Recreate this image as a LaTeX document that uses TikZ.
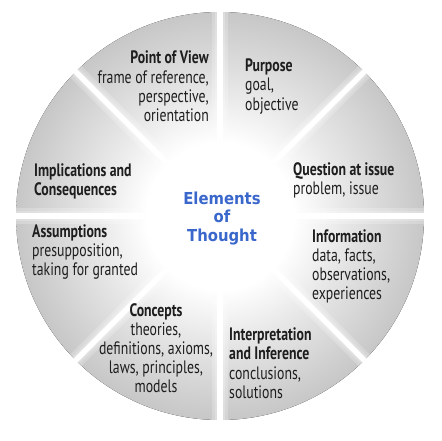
\documentclass[tikz,border=0pt]{standalone}
\usepackage{fontspec}
\setmainfont[FakeStretch=0.765]{PT Sans}
\newfontfamily\titlefont{DejaVu Sans Condensed}
\definecolor{titleblue}{HTML}{3A67CC}
\definecolor{txt}{HTML}{1E1E1E}
\pgfdeclareradialshading{ringshade}{\pgfpointorigin}{color(0bp)=(white); color(9bp)=(white); color(15bp)=(black!9); color(25bp)=(black!22); color(50bp)=(black!22)}
\tikzset{
  lbl/.style={inner sep=0pt, text=txt, font=\fontsize{18}{19.2}\selectfont},
  gap/.style={white, line width=5.5pt},
  glow/.style={white, opacity=0.22},
}
\begin{document}
\begin{tikzpicture}[x=1pt,y=-1pt]
\useasboundingbox (0,0) rectangle (441,441);
\coordinate (c) at (220,216);
\fill[shading=ringshade] (c) circle[radius=204];
\begin{scope}
  \clip (c) circle[radius=204];
  \foreach \a in {0,45,...,315}{
    \draw[glow, line width=16pt] (c) -- ++(\a:210);
    \draw[glow, line width=10pt] (c) -- ++(\a:210);
  }
\end{scope}
\foreach \a in {0,45,...,315}{
  \draw[gap] (c) -- ++(\a:210);
}
\node[lbl, align=right, anchor=north east] (pov) at (209,51) {\textbf{Point of View}\\frame of reference,\\perspective,\\orientation};
\node[lbl, align=left, anchor=north west] (pur) at (245,58.7) {\textbf{Purpose}\\goal,\\objective};
\node[lbl, align=left, anchor=north west] (que) at (293,162.7) {\textbf{Question at issue}\\problem, issue};
\node[lbl, align=left, anchor=north west] (inf) at (312,229) {\textbf{Information}\\data, facts,\\observations,\\experiences};
\node[lbl, align=left, anchor=north west] (int) at (229,327.7) {\textbf{Interpretation}\\\textbf{and Inference}\\conclusions,\\solutions};
\node[lbl, align=center, anchor=north] (con) at (156,303) {\textbf{Concepts}\\theories,\\definitions, axioms,\\laws, principles,\\models};
\node[lbl, align=left, anchor=north west] (ass) at (32,224) {\textbf{Assumptions}\\presupposition,\\taking for granted};
\node[lbl, align=left, anchor=north west] (imp) at (34,163.7) {\textbf{Implications and}\\\textbf{Consequences}};
\node[inner sep=0pt, align=center, anchor=north, text=titleblue, font=\titlefont\bfseries\fontsize{16.5}{18.7}\selectfont] (eot) at (222,191.5) {Elements\\of\\Thought};
\end{tikzpicture}
\end{document}
